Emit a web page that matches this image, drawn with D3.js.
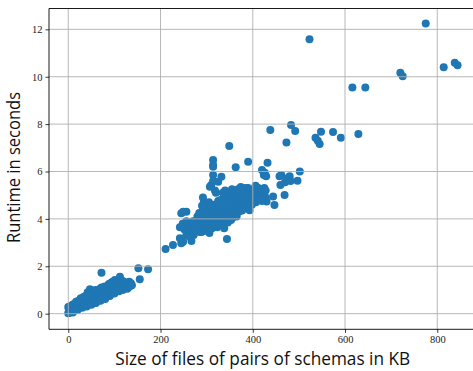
<!DOCTYPE html>
<html>
<head>
<meta charset="utf-8">
<script src="https://cdn.jsdelivr.net/npm/d3@7/dist/d3.min.js"></script>
<style>
  html, body { margin: 0; padding: 0; background: #fff; }
  svg { display: block; }
</style>
</head>
<body>
<div id="chart"></div>
<script>
// [size of files in KB, runtime in seconds]
const smallPairs = [
  [0,0.02],[1,0.05],[2,0.1],[3,0.15],[1,0.2],[2,0.25],[4,0.05],[5,0.12],[6,0.2],[7,0.08],
  [8,0.18],[9,0.25],[10,0.12],[0,0.28],[3,0.3],[5,0.3],[8,0.35],[10,0.05],
  [12,0.2],[13,0.3],[14,0.38],[15,0.25],[16,0.18],[18,0.35],[19,0.45],[20,0.28],[21,0.22],
  [23,0.4],[24,0.32],[25,0.5],[26,0.27],[28,0.42],[29,0.35],[30,0.55],
  [11,0.4],[17,0.5],[20,0.15],[22,0.55],[27,0.65],[30,0.25],
  [31,0.3],[32,0.45],[34,0.38],[35,0.6],[36,0.5],[38,0.42],[39,0.7],[40,0.35],[41,0.55],
  [43,0.48],[44,0.8],[45,0.62],[46,0.4],[48,0.52],[49,0.72],[50,0.45],[52,0.6],[53,0.9],
  [54,0.5],[56,0.68],[57,0.55],[58,0.8],[60,0.5],[47,1.03],[50,0.95],
  [33,0.7],[37,0.75],[40,0.3],[42,0.9],[46,0.85],[50,0.38],[55,0.95],[59,1.0],[60,0.45],
  [61,0.62],[62,0.9],[63,0.75],[65,0.58],[66,0.85],[67,0.68],[68,1.0],[70,0.65],[71,0.78],
  [72,1.1],[72,1.73],[74,0.88],[75,0.7],[77,0.95],[78,0.8],[80,0.72],[81,1.05],[83,0.85],
  [84,0.95],[86,0.8],[87,1.1],[89,0.9],
  [64,1.0],[69,1.05],[70,0.55],[76,1.1],[79,1.15],[80,0.62],[85,1.15],[88,1.25],
  [90,1.0],[92,0.88],[94,0.95],[95,1.15],[97,1.21],[98,1.0],[100,1.05],[101,1.42],[102,1.3],
  [104,1.1],[106,1.2],[108,1.05],[110,1.25],[112,1.56],[113,1.15],[115,1.3],[117,1.2],
  [119,1.35],[120,1.1],[122,1.25],[123,1.07],[125,1.3],[127,1.2],[130,1.25],[132,1.35],
  [134,1.21],[136,1.28],
  [90,0.75],[93,1.3],[96,1.35],[100,0.85],[105,1.35],[109,1.35],[110,0.95],[114,1.4],
  [118,1.0],[118,1.38],[124,1.3],[128,1.05],[128,1.25],[133,1.15],[138,1.2],
  [152,1.92],[173,1.87],[155,1.45]
];

const midPairs = [
  [242,3.65],[248,3.8],[252,3.55],[256,3.9],[260,3.7],[264,3.45],[268,3.85],[245,4.24],
  [256,4.3],[249,4.3],[211,2.73],[227,2.9],[245,2.97],[267,3.07],[256,3.32],[272,3.32],
  [242,3.18],[263,3.25],[249,3.04],
  [272,3.6],[275,3.9],[278,3.5],[280,4.1],[282,3.75],[285,3.45],[286,4.0],[288,3.65],
  [290,4.3],[292,3.85],[294,3.55],[295,4.15],[296,4.6],[298,3.95],[300,3.7],[292,4.9],
  [294,4.7],[284,4.25],
  [270,3.9],[276,3.7],[283,4.0],[289,3.45],[297,3.5],[290,4.55],
  [302,4.3],[304,3.85],[305,4.05],[307,3.6],[308,4.45],[310,3.95],[310,5.43],[312,4.2],
  [314,6.49],[314,6.27],[314,6.2],[314,5.85],[314,5.6],[315,3.75],[316,4.6],[318,4.0],
  [320,4.35],[320,5.1],[322,3.8],[324,4.15],[325,5.57],[326,4.5],[328,3.95],[330,4.25],
  [332,5.78],[307,5.36],
  [300,4.45],[303,3.55],[305,4.7],[306,3.4],[310,4.55],[312,3.6],[318,3.7],[318,5.2],
  [323,3.65],[325,4.75],[327,3.75],
  [332,4.65],[334,4.05],[336,4.4],[338,4.9],[340,3.9],[341,4.2],[343,4.7],[344,3.15],
  [345,4.45],[346,5.0],[348,4.1],[349,7.08],[350,4.6],[352,4.3],[354,4.85],[356,4.05],
  [358,4.5],[360,4.75],
  [330,4.8],[335,5.1],[335,3.8],[338,3.6],[340,5.2],[346,3.85],[350,5.1],[353,3.95],
  [355,5.25],[358,4.9],[358,4.15],
  [362,4.25],[363,6.18],[364,4.95],[366,4.6],[368,4.35],[370,5.1],[372,4.7],[374,4.45],
  [376,5.2],[378,4.9],[380,4.6],[382,5.0],[385,4.75],[386,5.3],[388,4.55],[390,6.41],
  [392,5.0],[393,4.37],[395,4.8],[398,5.1],
  [362,5.15],[365,4.8],[365,4.1],[368,5.25],[370,4.3],[372,4.95],[375,4.7],[377,4.35],
  [378,5.3],[380,4.85],[384,5.15],[388,4.9],[395,5.2],[398,4.6],
  [402,4.7],[405,5.0],[408,4.85],[410,5.1],[413,4.8],[416,5.05],[418,4.95],[420,5.2],
  [420,6.06],[424,5.85],[426,5.95],[429,5.8],[423,5.05],[428,4.9],[430,4.73],[432,6.37],
  [438,7.75],[444,4.94],[447,4.59],
  [400,5.0],[403,5.25],[407,4.7],[412,5.3],[415,4.9],[420,4.75],[425,5.3],[428,5.2],
  [458,5.8],[460,5.43],[462,5.85],[469,5.01],[470,5.55],[475,5.7],[480,5.8],[482,5.6],
  [497,5.61],[502,6.0],[473,7.22],[483,7.96],[492,7.71],[374,5.35],[390,5.3],[406,5.4]
];

const largePairs = [
  [523,11.58],[775,12.25],[814,10.4],[838,10.59],[844,10.48],[720,10.17],[725,10.02],
  [616,9.55],[644,9.55],[629,7.58],[536,7.43],[541,7.3],[545,7.16],[548,7.68],[574,7.67],
  [591,7.43]
];

const xTicks = [0, 200, 400, 600, 800];
const yTicks = [0, 2, 4, 6, 8, 10, 12];

const xLabel = 'Size of files of pairs of schemas in KB';
const yLabel = 'Runtime in seconds';

const width = 473, height = 371;
const margin = { left: 49, right: -3, top: 8.5, bottom: 41.7 };

const svg = d3.select('#chart').append('svg')
  .attr('width', width)
  .attr('height', height);

const x = d3.scaleLinear()
  .domain([-41.8, 884])
  .range([margin.left, width - margin.right]);

const y = d3.scaleLinear()
  .domain([-0.66, 12.88])
  .range([height - margin.bottom, margin.top]);

svg.append('clipPath').attr('id', 'plot-clip')
  .append('rect')
  .attr('x', margin.left).attr('y', margin.top)
  .attr('width', width - margin.right - margin.left)
  .attr('height', height - margin.bottom - margin.top);

const allPairs = smallPairs.concat(midPairs, largePairs);

// dots
svg.append('g')
  .attr('clip-path', 'url(#plot-clip)')
  .selectAll('circle')
  .data(allPairs)
  .enter().append('circle')
  .attr('cx', d => x(d[0]))
  .attr('cy', d => y(d[1]))
  .attr('r', 4)
  .attr('fill', '#1f77b4');

// grid, drawn above the dots like matplotlib
const grid = svg.append('g').attr('clip-path', 'url(#plot-clip)');
grid.selectAll('.gx').data(xTicks).enter().append('line')
  .attr('x1', d => x(d)).attr('x2', d => x(d))
  .attr('y1', margin.top).attr('y2', height - margin.bottom)
  .attr('stroke', '#b0b0b0').attr('stroke-width', 0.9);
grid.selectAll('.gy').data(yTicks).enter().append('line')
  .attr('x1', margin.left).attr('x2', width - margin.right)
  .attr('y1', d => y(d)).attr('y2', d => y(d))
  .attr('stroke', '#b0b0b0').attr('stroke-width', 0.9);

// axes
const xAxis = svg.append('g')
  .attr('transform', 'translate(0,' + (height - margin.bottom) + ')')
  .call(d3.axisBottom(x).tickValues(xTicks).tickSize(3.5).tickPadding(3).tickFormat(d3.format('d')));
const yAxis = svg.append('g')
  .attr('transform', 'translate(' + margin.left + ',0)')
  .call(d3.axisLeft(y).tickValues(yTicks).tickSize(3.5).tickPadding(3).tickFormat(d3.format('d')));

[xAxis, yAxis].forEach(function (g) {
  g.select('.domain').remove();
  g.selectAll('.tick line').attr('stroke', '#000').attr('stroke-width', 0.8);
  g.selectAll('.tick text')
    .attr('fill', '#222')
    .style('font-family', '"Liberation Serif", "DejaVu Serif", serif')
    .style('font-size', '10.5px');
});

// spines
const spines = svg.append('g').attr('fill', 'none').attr('stroke', '#000').attr('stroke-width', 0.9);
spines.append('line')
  .attr('x1', margin.left).attr('x2', margin.left)
  .attr('y1', margin.top).attr('y2', height - margin.bottom);
spines.append('line')
  .attr('x1', margin.left).attr('x2', width - margin.right)
  .attr('y1', height - margin.bottom).attr('y2', height - margin.bottom);
spines.append('line')
  .attr('x1', margin.left).attr('x2', width - margin.right)
  .attr('y1', margin.top).attr('y2', margin.top);

// axis labels
svg.append('text')
  .attr('x', 262.7).attr('y', 364.5)
  .attr('text-anchor', 'middle')
  .attr('textLength', 295).attr('lengthAdjust', 'spacingAndGlyphs')
  .style('font-family', '"Open Sans", "DejaVu Sans", sans-serif')
  .style('font-size', '17.5px')
  .attr('fill', '#111')
  .text(xLabel);

svg.append('text')
  .attr('transform', 'translate(20,167.5) rotate(-90)')
  .attr('text-anchor', 'middle')
  .attr('textLength', 151).attr('lengthAdjust', 'spacingAndGlyphs')
  .style('font-family', '"Open Sans", "DejaVu Sans", sans-serif')
  .style('font-size', '17.5px')
  .attr('fill', '#111')
  .text(yLabel);
</script>
</body>
</html>
